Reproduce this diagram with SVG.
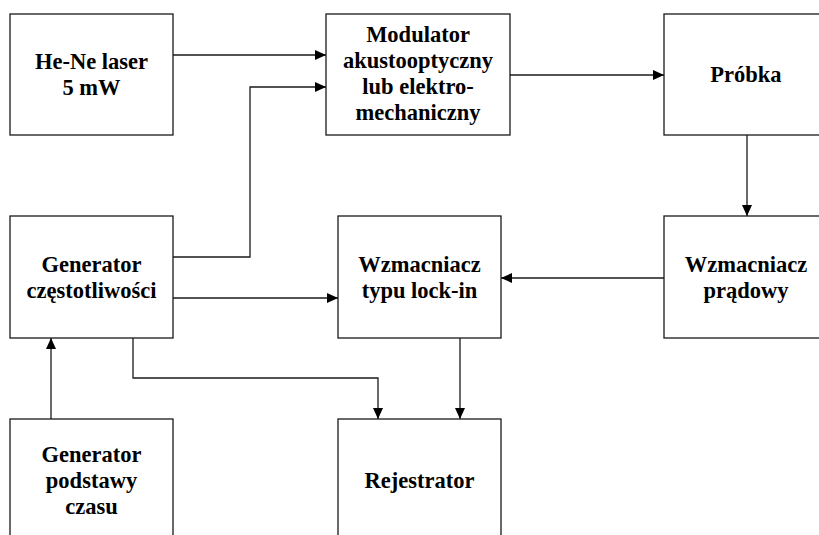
<svg xmlns="http://www.w3.org/2000/svg" width="819" height="535" viewBox="0 0 819 535">
<style>
.box{fill:#fff;stroke:#1a1a1a;stroke-width:1.3}
.t{font-family:'Liberation Serif','Times New Roman',serif;font-weight:700;font-size:22.5px;fill:#000;text-anchor:middle}
.c{fill:none;stroke:#1a1a1a;stroke-width:1.3}
</style>
<defs>
<marker id="ah" markerUnits="userSpaceOnUse" markerWidth="12" markerHeight="11" refX="11" refY="5" orient="auto">
<path d="M0,0 L11,5 L0,10 Z" fill="#000"/>
</marker>
</defs>
<rect width="819" height="535" fill="#fff"/>
<g id="connectors">
<path class="c" d="M173,55 H326" marker-end="url(#ah)"/>
<path class="c" d="M173,257 H250 V87 H326" marker-end="url(#ah)"/>
<path class="c" d="M510,75 H664" marker-end="url(#ah)"/>
<path class="c" d="M747,135 V216" marker-end="url(#ah)"/>
<path class="c" d="M664,278 H501" marker-end="url(#ah)"/>
<path class="c" d="M173,298 H338" marker-end="url(#ah)"/>
<path class="c" d="M133,338 V378 H378 V419" marker-end="url(#ah)"/>
<path class="c" d="M460,338 V419" marker-end="url(#ah)"/>
<path class="c" d="M51,419 V338" marker-end="url(#ah)"/>
</g>
<g id="laser">
<rect class="box" x="10" y="14" width="163" height="121"/>
<text class="t" x="91.5" y="69">He-Ne laser</text>
<text class="t" x="91.5" y="95">5 mW</text>
</g>
<g id="modulator">
<rect class="box" x="326" y="14" width="184" height="121"/>
<text class="t" x="418" y="42">Modulator</text>
<text class="t" x="418" y="68">akustooptyczny</text>
<text class="t" x="418" y="94">lub elektro-</text>
<text class="t" x="418" y="120">mechaniczny</text>
</g>
<g id="probka">
<rect class="box" x="664" y="14" width="164" height="121"/>
<text class="t" x="746" y="82">Próbka</text>
</g>
<g id="generator">
<rect class="box" x="10" y="216" width="163" height="122"/>
<text class="t" x="91.5" y="272">Generator</text>
<text class="t" x="91.5" y="298">częstotliwości</text>
</g>
<g id="lockin">
<rect class="box" x="338" y="216" width="163" height="122"/>
<text class="t" x="419.5" y="272">Wzmacniacz</text>
<text class="t" x="419.5" y="298">typu lock-in</text>
</g>
<g id="pradowy">
<rect class="box" x="664" y="216" width="164" height="122"/>
<text class="t" x="746" y="272">Wzmacniacz</text>
<text class="t" x="746" y="298">prądowy</text>
</g>
<g id="podstawa">
<rect class="box" x="10" y="419" width="163" height="130"/>
<text class="t" x="91.5" y="462">Generator</text>
<text class="t" x="91.5" y="488">podstawy</text>
<text class="t" x="91.5" y="514">czasu</text>
</g>
<g id="rejestrator">
<rect class="box" x="338" y="419" width="163" height="130"/>
<text class="t" x="419.5" y="488">Rejestrator</text>
</g>
</svg>
